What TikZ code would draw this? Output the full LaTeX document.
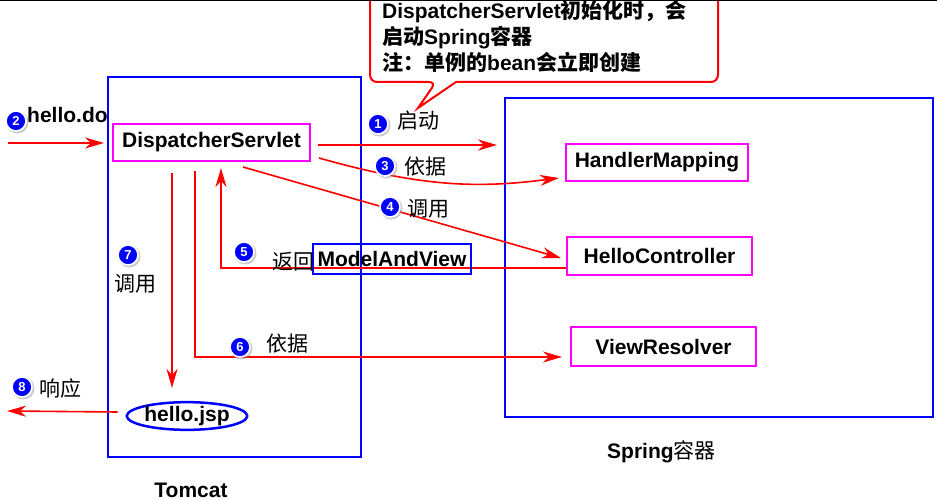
\documentclass[tikz,border=0pt]{standalone}
\usepackage{fontspec}
\setmainfont{Liberation Sans}
\newfontfamily\cjk{Noto Sans CJK SC}
\usetikzlibrary{arrows.meta,shapes.geometric,shadows}
\definecolor{rd}{RGB}{255,0,0}
\definecolor{bl}{RGB}{0,0,255}
\definecolor{mg}{RGB}{255,0,255}
\tikzset{
  big/.style={font=\fontsize{21}{25}\selectfont\bfseries},
  lbl/.style={font=\cjk\fontsize{21}{25}\selectfont, inner sep=0pt},
  comp/.style={draw=mg, line width=2pt, inner sep=0pt, minimum height=37pt, big},
  frame/.style={draw=bl, line width=2pt, inner sep=0pt, outer sep=0pt},
  arr/.style={draw=rd, line width=1.6pt, -{Stealth[length=19pt,width=11pt,inset=6pt]}},
  num/.style={circle, fill=bl, draw=white, line width=1.6pt, text=white,
    font=\fontsize{13}{13}\selectfont\bfseries, inner sep=0pt, minimum size=20pt,
    drop shadow={shadow xshift=1.2pt,shadow yshift=-1.2pt,shadow scale=1.12,fill=black!40}},
}
\begin{document}
\begin{tikzpicture}[x=1pt,y=-1pt]
\useasboundingbox (0,0) rectangle (937,500);
% containers
\node[frame, minimum width=253pt, minimum height=380pt] (tomcat) at (234.5,267) {};
\node[frame, minimum width=428pt, minimum height=319pt] (spring) at (719,257.5) {};
% callout
\draw[rd, line width=2pt, rounded corners=7pt] (370,-20) -- (370,82) -- (436,82) [sharp corners] -- (418,108) -- (456,82) [rounded corners=7pt] -- (718,82) -- (718,-20);
\node[big, anchor=base west, inner sep=0pt] (c1) at (382,19) {DispatcherServlet{\cjk 初始化时，会}};
\node[big, anchor=base west, inner sep=0pt] (c2) at (382,45) {{\cjk 启动}Spring{\cjk 容器}};
\node[big, anchor=base west, inner sep=0pt] (c3) at (382,71) {{\cjk 注：单例的}bean{\cjk 会立即创建}};
\draw[black, line width=1.5pt] (0,0.75) -- (937,0.75);
% components
\node[comp, minimum width=197pt] (ds) at (211.5,142.5) {DispatcherServlet};
\node[comp, minimum width=182pt] (hm) at (657,162.5) {HandlerMapping};
\node[comp, minimum width=185pt, minimum height=38pt] (hc) at (659.5,256) {HelloController};
\node[comp, minimum width=185pt, minimum height=39pt] (vr) at (663.5,346.5) {ViewResolver};
\node[ellipse, draw=bl, line width=2.5pt, inner sep=0pt, minimum width=114pt, minimum height=26pt, big] (jsp) at (187,416) {hello.jsp};
% free ends
\coordinate (in) at (8,143);
\coordinate (out) at (7,411);
% connectors
\draw[arr] (in) -- ([xshift=-8pt]ds.west |- in);
\draw[arr] ([xshift=7pt,yshift=-2.5pt]ds.east) coordinate (a1s) -- ([xshift=-8pt]spring.west |- a1s);
\draw[arr] ([xshift=8pt,yshift=-15.5pt]ds.east) .. controls (425,188) and (480,188) .. ([xshift=-6pt,yshift=-15.5pt]hm.west);
\draw[arr] ([xshift=31.5pt,yshift=-24.5pt]ds.center) -- ([xshift=-5pt,yshift=-2pt]hc.west);
\draw[arr] ([yshift=-12pt]hc.west) -| ([xshift=9.5pt,yshift=-6pt]ds.south);
\draw[arr] ([xshift=-16.5pt,yshift=-9pt]ds.south) |- ([xshift=-8pt,yshift=-10.5pt]vr.west);
\draw[arr] ([xshift=-39.5pt,yshift=-11pt]ds.south) -- ([xshift=-15pt,yshift=13pt]jsp.north);
\draw[arr] ([xshift=-8pt,yshift=4pt]jsp.west) -- (out);
% ModelAndView box
\node[draw=bl, line width=2pt, inner sep=0pt, minimum width=158pt, minimum height=30pt, big] (mav) at (392,259) {ModelAndView};
% labels
\node[big, anchor=base west, inner sep=0pt] (hd) at (27,123) {hello.do};
\node[lbl, anchor=west] (l1) at (397,121) {启动};
\node[lbl, anchor=west] (l3) at (404,167) {依据};
\node[lbl, anchor=west] (l4) at (407,209) {调用};
\node[lbl, anchor=west] (l5) at (272,262) {返回};
\node[lbl, anchor=west] (l6) at (266,344) {依据};
\node[lbl, anchor=west] (l7) at (114,284) {调用};
\node[lbl, anchor=west] (l8) at (39,389) {响应};
\node[big, anchor=base, inner sep=0pt] (tl) at (191,497) {Tomcat};
\node[big, anchor=base west, inner sep=0pt] (sl) at (607,458) {Spring{\cjk\mdseries 容器}};
% number badges
\node[num] (n1) at (378,124) {1};
\node[num] (n2) at (16,121) {2};
\node[num] (n3) at (385,166) {3};
\node[num] (n4) at (390,207) {4};
\node[num] (n5) at (244,252) {5};
\node[num] (n6) at (240,347) {6};
\node[num] (n7) at (128,255) {7};
\node[num] (n8) at (22,387) {8};
\end{tikzpicture}
\end{document}
